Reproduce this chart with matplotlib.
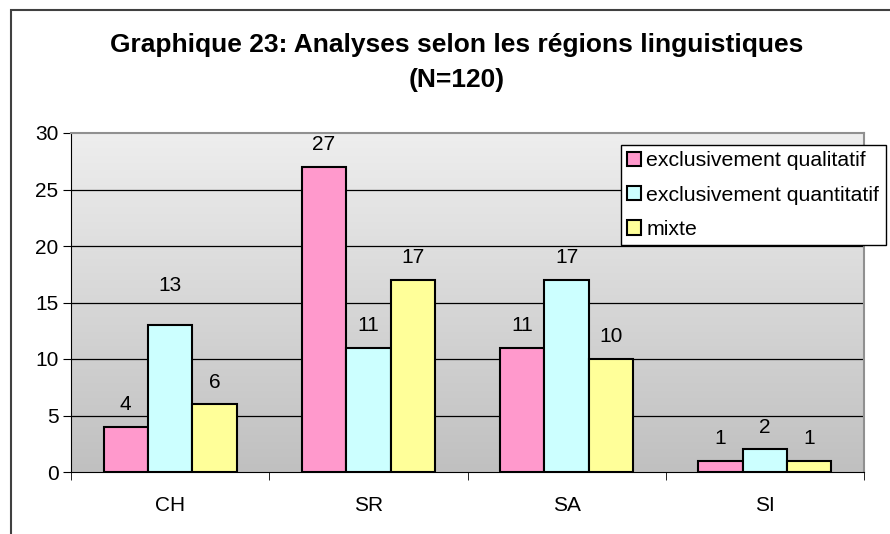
import matplotlib.pyplot as plt
import numpy as np
from matplotlib.patches import Rectangle
from matplotlib.colors import LinearSegmentedColormap

plt.rcParams['font.family'] = ['Liberation Sans', 'DejaVu Sans']

regions = ['CH', 'SR', 'SA', 'SI']
qualitatif = [4, 27, 11, 1]
quantitatif = [13, 11, 17, 2]
mixte = [6, 17, 10, 1]
series_names = ['exclusivement qualitatif', 'exclusivement quantitatif', 'mixte']
colors = ['#FF99CC', '#CCFFFF', '#FFFF99']

W, H = 890, 534
fig = plt.figure(figsize=(W / 100, H / 100), dpi=100)
fig.patch.set_facecolor('white')

# outer chart border (right/bottom fall outside the image)
fig.patches.append(Rectangle((11 / W, -0.05), 1.0, 1 - 10 / H + 0.05,
                             transform=fig.transFigure, fill=False,
                             edgecolor='#404040', lw=1.5))

ax = fig.add_axes([71 / W, 1 - 472 / H, (864 - 71) / W, (472 - 133) / H])

# gray gradient background
grad = np.linspace(0, 1, 256).reshape(-1, 1)
cmap = LinearSegmentedColormap.from_list('g', ['#C0C0C0', '#EEEEEE'])
ax.imshow(grad, aspect='auto', cmap=cmap, origin='lower',
          extent=[-0.5, 3.5, 0, 30], zorder=0)

x = np.arange(len(regions))
bw = 0.224
fs = 15
all_series = [qualitatif, quantitatif, mixte]
for i, (vals, c, name) in enumerate(zip(all_series, colors, series_names)):
    bars = ax.bar(x + (i - 1) * bw, vals, bw, color=c, edgecolor='black',
                  lw=1.5, label=name, zorder=3)
    for j, (b, v) in enumerate(zip(bars, vals)):
        off = 22
        if regions[j] == 'CH' and i == 1:
            off = 40
        ax.annotate(str(v), (b.get_x() + b.get_width() / 2, v),
                    xytext=(0, off), textcoords='offset pixels',
                    ha='center', va='center', fontsize=fs)

ax.set_xlim(-0.5, 3.5)
ax.set_ylim(0, 30)
ax.set_yticks(range(0, 31, 5))
ax.set_xticks(x)
ax.set_xticklabels(regions, fontsize=fs)
ax.set_xticks(np.arange(-0.5, 3.6, 1), minor=True)
ax.tick_params(axis='x', which='major', length=0, pad=17)
ax.tick_params(axis='x', which='minor', length=6, direction='out', color='black')
ax.tick_params(axis='y', length=6, direction='out', labelsize=fs, pad=3)
for yv in range(5, 30, 5):
    ax.axhline(yv, color='black', lw=0.9, zorder=1)

ax.spines['left'].set_color('black')
ax.spines['bottom'].set_color('black')
ax.spines['top'].set_color('#909090')
ax.spines['right'].set_color('#909090')
ax.spines['top'].set_linewidth(1.5)
ax.spines['right'].set_linewidth(1.5)

fig.text(457 / W, 1 - 45 / H, 'Graphique 23: Analyses selon les régions linguistiques',
         ha='center', va='center', fontsize=19, fontweight='bold')
fig.text(457 / W, 1 - 80 / H, '(N=120)', ha='center', va='center',
         fontsize=19, fontweight='bold')

leg = fig.legend(loc='upper left', bbox_to_anchor=(621 / W, 1 - 145 / H),
                 fontsize=15.3, frameon=True, fancybox=False, framealpha=1,
                 edgecolor='black', handlelength=0.65, handleheight=0.65,
                 handletextpad=0.25, borderpad=0.3, labelspacing=0.72,
                 borderaxespad=0)
leg.get_frame().set_linewidth(1.0)

fig.savefig('out.png', dpi=100)
